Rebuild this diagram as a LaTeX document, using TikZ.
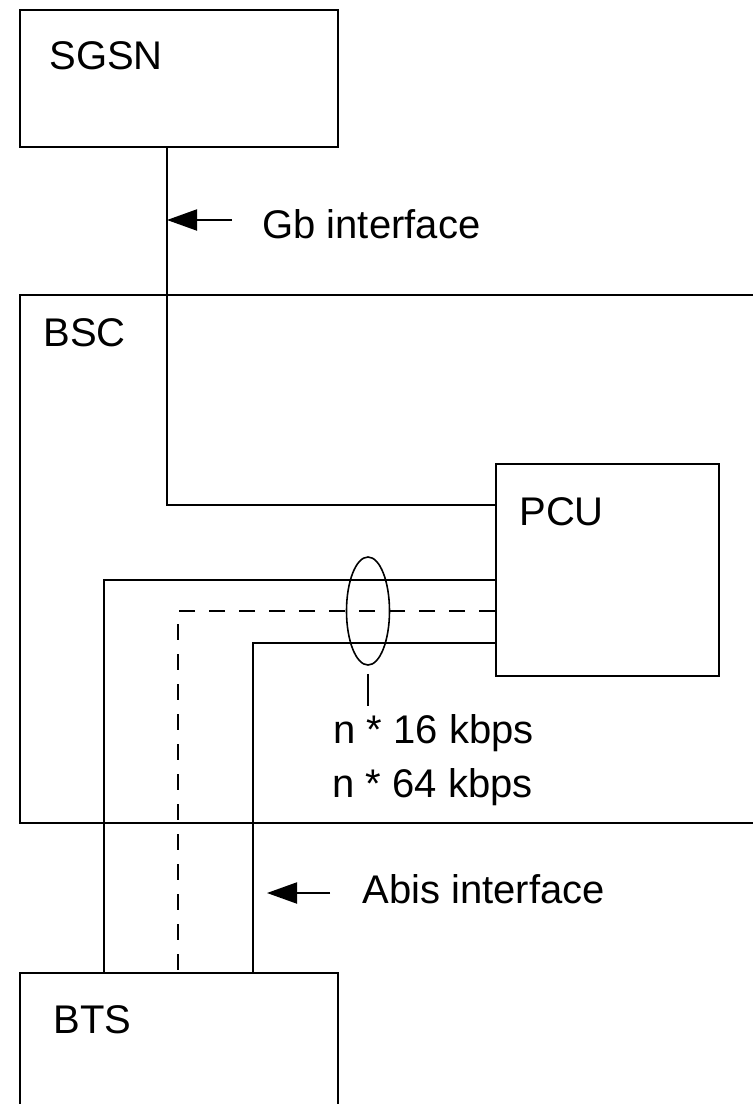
\documentclass[tikz,border=0pt]{standalone}
\usepackage{fontspec}
\setmainfont{Liberation Sans}
\usetikzlibrary{arrows.meta,shapes.geometric}

\begin{document}
\begin{tikzpicture}[x=0.5pt,y=-0.5pt,
  blocco/.style={draw, line width=1pt, rectangle, inner sep=0pt, anchor=north west},
  testo/.style={font=\fontsize{20}{24}\selectfont, inner sep=0pt, anchor=base west},
  linea/.style={line width=1pt},
  freccia/.style={line width=1pt, -{Triangle[length=15pt,width=10.5pt]}}]

% Area visibile
\useasboundingbox (0,0) rectangle (753,1104);
\clip (0,0) rectangle (753,1104);

% Blocchi
\node[blocco, minimum width=159pt, minimum height=68.5pt] (sgsn) at (19,9) {};
\node[blocco, minimum width=400pt, minimum height=264pt] (bsc) at (19,294) {};
\node[blocco, minimum width=111.5pt, minimum height=106pt] (pcu) at (495,463) {};
\node[blocco, minimum width=159pt, minimum height=100pt] (bts) at (19,972) {};

% Nomi dei blocchi
\node[testo] (sgsnlbl) at (49,69) {SGSN};
\node[testo] (bsclbl) at (43,346) {BSC};
\node[testo] (pculbl) at (519,525) {PCU};
\node[testo] (btslbl) at (53,1033) {BTS};

% Collegamento Gb
\coordinate (gbknee) at (167,505);
\draw[linea] (sgsn.south -| gbknee) -- (gbknee) -- (gbknee -| pcu.west);

% Collegamenti Abis
\coordinate (abis1) at (104,580);
\coordinate (abis2) at (178,611);
\coordinate (abis3) at (253,643);
\draw[linea] (abis1 -| pcu.west) -- (abis1) -- (abis1 |- bts.north);
\draw[linea, dash pattern=on 8pt off 7pt] (abis2 -| pcu.west) -- (abis2) -- (abis2 |- bts.north);
\draw[linea] (abis3 -| pcu.west) -- (abis3) -- (abis3 |- bts.north);

% Fascio e velocita
\node[draw, ellipse, line width=0.8pt, inner sep=0pt, minimum width=21.5pt, minimum height=54pt] (fascio) at (368,611) {};
\node[testo] (rate16) at (333,743) {n * 16 kbps};
\node[testo] (rate64) at (332,797) {n * 64 kbps};
\coordinate (ratetop) at (fascio.south |- rate16.north);
\draw[linea] ([yshift=-4pt]fascio.south) -- ([yshift=4pt]ratetop);

% Interfacce
\node[testo] (gblbl) at (262,238) {Gb interface};
\node[testo] (abislbl) at (362,903) {Abis interface};
\coordinate (gbcoda) at (232,220);
\draw[freccia] (gbcoda) -- (gbcoda -| gbknee);
\coordinate (abiscoda) at (330,893);
\coordinate (abispunta) at (267,893);
\draw[freccia] (abiscoda) -- (abispunta);

\end{tikzpicture}
\end{document}
